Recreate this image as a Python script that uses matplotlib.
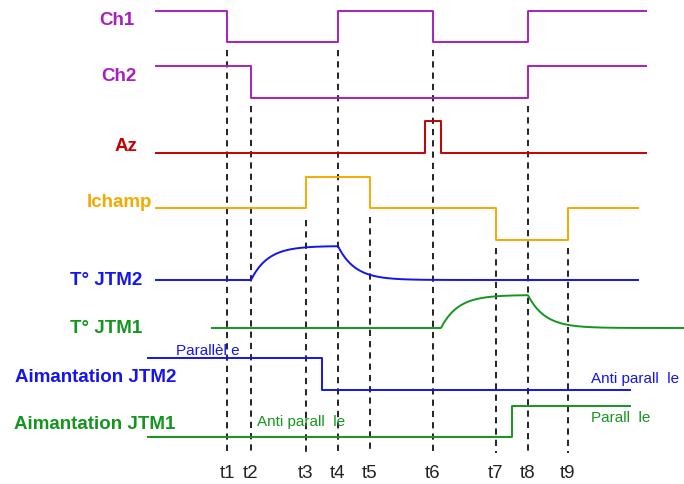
import numpy as np
import matplotlib
matplotlib.use("Agg")
import matplotlib.pyplot as plt

# ---- data (time axis in diagram units; levels in diagram units, y grows downward) ----
t_names = ["t1", "t2", "t3", "t4", "t5", "t6", "t7", "t8", "t9"]
t_vals = [227, 251, 306, 338, 370, 433, 496, 528, 568]
t_top = [50, 106, 220, 50, 217, 50, 248, 106, 248]

ch1_x = [156, 227, 227, 338, 338, 433, 433, 528, 528, 646]
ch1_y = [11, 11, 42, 42, 11, 11, 42, 42, 11, 11]
ch2_x = [156, 251, 251, 528, 528, 646]
ch2_y = [66, 66, 98, 98, 66, 66]
az_x = [156, 425, 425, 441, 441, 646]
az_y = [153, 153, 121, 121, 153, 153]
ich_x = [156, 306, 306, 370, 370, 496, 496, 568, 568, 638]
ich_y = [208, 208, 177, 177, 208, 208, 240, 240, 208, 208]
mag2_x = [148, 322, 322, 630]
mag2_y = [358, 358, 390, 390]
mag1_x = [148, 512, 512, 630]
mag1_y = [437, 437, 406, 406]

# temperature: start, rise-start, fall-start, end, base level, plateau level, time constant
tj2 = dict(x0=156, xr=251, xf=338, x1=638, base=280, top=246, tau=17)
tj1 = dict(x0=212, xr=441, xf=528, x1=684, base=328, top=295, tau=17)

PURPLE = "#a81fc0"
RED = "#c80000"
ORANGE = "#f5aa00"
BLUE = "#1414f0"
GREEN = "#14961e"

fig = plt.figure(figsize=(6.84, 4.84), dpi=100)
ax = fig.add_axes([0, 0, 1, 1])
ax.set_xlim(0, 684)
ax.set_ylim(484, 0)
ax.axis("off")

lw = 1.4
for tv, top in zip(t_vals, t_top):
    ax.plot([tv, tv], [top, 453], color="#222222", lw=1.4, ls=(0, (3.2, 2.6)), zorder=1)
for name, tv in zip(t_names, t_vals):
    ax.text(tv, 478, name, ha="center", va="baseline", fontsize=13.5,
            family="Liberation Sans", color="#222222")

ax.plot(ch1_x, ch1_y, color=PURPLE, lw=lw, zorder=2)
ax.plot(ch2_x, ch2_y, color=PURPLE, lw=lw, zorder=2)
ax.plot(az_x, az_y, color=RED, lw=lw, zorder=2)
ax.plot(ich_x, ich_y, color=ORANGE, lw=lw, zorder=2)
ax.plot(mag2_x, mag2_y, color=BLUE, lw=lw, zorder=2)
ax.plot(mag1_x, mag1_y, color=GREEN, lw=lw, zorder=2)


def temp_curve(p):
    x = np.linspace(p["x0"], p["x1"], 800)
    amp = p["base"] - p["top"]
    rise = amp * (1 - np.exp(-(x - p["xr"]) / p["tau"]))
    peak = amp * (1 - np.exp(-(p["xf"] - p["xr"]) / p["tau"]))
    fall = peak * np.exp(-(x - p["xf"]) / p["tau"])
    d = np.where(x < p["xr"], 0, np.where(x < p["xf"], rise, fall))
    return x, p["base"] - d


x2, y2 = temp_curve(tj2)
ax.plot(x2, y2, color=BLUE, lw=lw, zorder=2)
x1, y1 = temp_curve(tj1)
ax.plot(x1, y1, color=GREEN, lw=lw, zorder=2)

lab = dict(ha="right", va="baseline", fontsize=13.5, fontweight="bold", family="Liberation Sans")
ax.text(134, 25, "Ch1", color=PURPLE, **lab)
ax.text(136, 81, "Ch2", color=PURPLE, **lab)
ax.text(137, 151, "Az", color=RED, **lab)
ax.text(152, 207, "Ichamp", color=ORANGE, **lab)
ax.text(142, 285, "T° JTM2", color=BLUE, **lab)
ax.text(142, 333, "T° JTM1", color=GREEN, **lab)
ax.text(176, 382, "Aimantation JTM2", color=BLUE, **lab)
ax.text(175, 429, "Aimantation JTM1", color=GREEN, **lab)

sm = dict(ha="left", va="baseline", fontsize=11, family="Liberation Sans")
ax.text(176, 355, "Parallèl e", color=BLUE, **sm)
ax.text(257, 426, "Anti parall  le", color=GREEN, **sm)
ax.text(591, 383, "Anti parall  le", color=BLUE, **sm)
ax.text(591, 422, "Parall  le", color=GREEN, **sm)

fig.savefig("out.png", dpi=100)
